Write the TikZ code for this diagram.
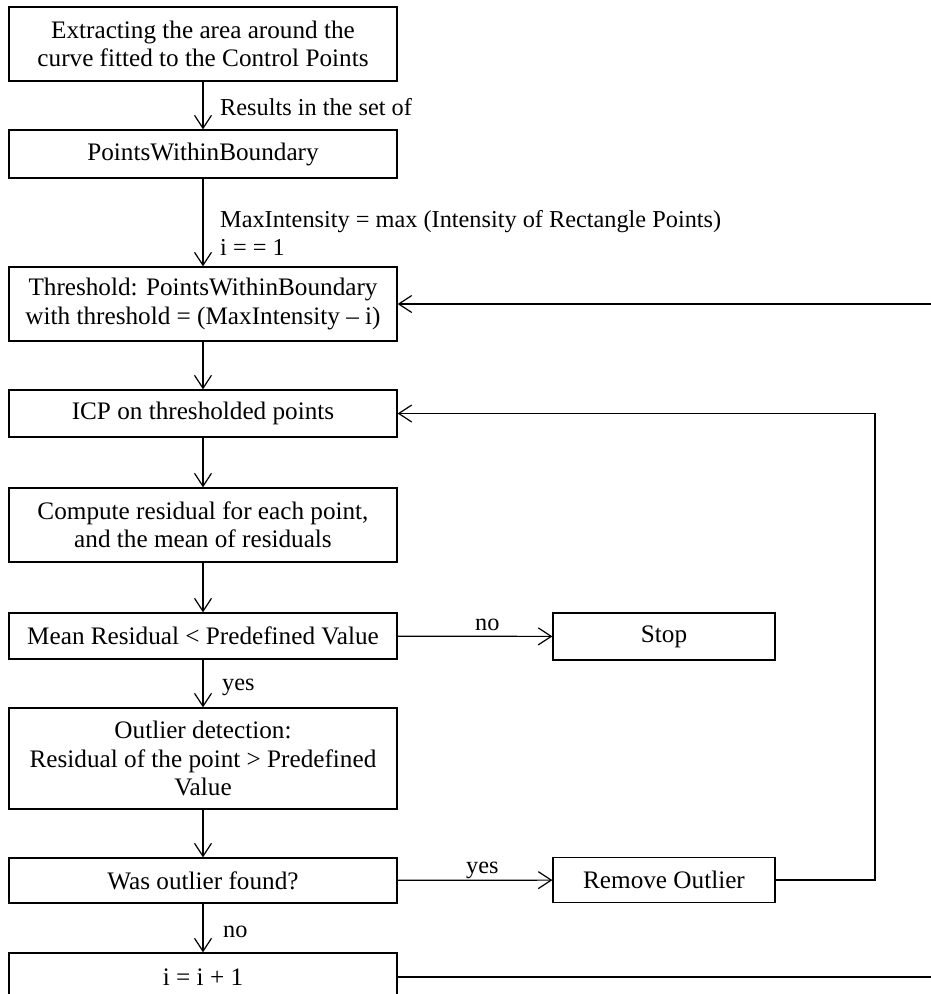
\documentclass[tikz,border=0pt]{standalone}
\usepackage{fontspec}
\setmainfont{Liberation Serif}
\usetikzlibrary{arrows.meta}
\begin{document}
\begin{tikzpicture}[x=1pt,y=-1pt,
  txt/.style={font=\fontsize{25.2}{28.3}\selectfont},
  box/.style={txt, draw, line width=1.3pt, minimum width=388pt, inner sep=0pt, align=center},
  lbl/.style={font=\fontsize{24.3}{28.3}\selectfont, anchor=base west, inner sep=0pt},
  arr/.style={line width=1.2pt, -{Straight Barb[length=13pt,width=17pt,line width=1.2pt]}},
  ln/.style={line width=1.2pt}]
\useasboundingbox (0,0) rectangle (931,994);
\begin{scope}
\clip (0,0) rectangle (931,994);
\node[box, minimum height=74pt] (b1) at (203,44) {Extracting the area around the\\curve fitted to the Control Points};
\node[box, minimum height=48pt] (b2) at (203,154) {PointsWithinBoundary};
\node[box, minimum height=74pt] (b3) at (203,304) {Threshold: PointsWithinBoundary\\with threshold = (MaxIntensity -- i)};
\node[box, minimum height=47pt] (b4) at (203,413.5) {ICP on thresholded points};
\node[box, minimum height=74pt] (b5) at (203,525) {Compute residual for each point,\\and the mean of residuals};
\node[box, minimum height=46pt] (b6) at (203,636) {Mean Residual {<} Predefined Value};
\node[box, minimum height=101pt] (b7) at (203,758.5) {Outlier detection:\\Residual of the point {>} Predefined\\Value};
\node[box, minimum height=45pt] (b8) at (203,880.5) {Was outlier found?};
\node[box, minimum height=48pt] (b9) at (203,977) {i = i + 1};
\node[box, minimum width=222pt, minimum height=47pt] (stop) at (664,636.5) {Stop};
\node[box, minimum width=222pt, minimum height=45pt] (rem) at (664,880) {Remove Outlier};

\coordinate (r1) at (931,304);
\coordinate (r2) at (931,977);
\coordinate (c1) at (875,880);
\coordinate (c2) at (875,413.5);

\draw[arr] (b1) -- (b2);
\draw[arr] (b2) -- (b3);
\draw[arr] (b3) -- (b4);
\draw[arr] (b4) -- (b5);
\draw[arr] (b5) -- (b6);
\draw[arr] (b6) -- (b7);
\draw[arr] (b7) -- (b8);
\draw[arr] (b8) -- (b9);
\draw[arr] (b6) -- (stop);
\draw[arr] (b8) -- (rem);
\draw[arr] (r1) -- (b3);
\draw[arr] (rem.east) -- (c1) -- (c2) -- (b4.east);
\draw[ln] (b9.east) -- (r2);

\node[lbl] (l1) at (220,115) {Results in the set of};
\node[lbl] (l2) at (220,227) {MaxIntensity = max (Intensity of Rectangle Points)};
\node[lbl] (l3) at (220,255) {i = = 1};
\node[lbl] (l4) at (222,690) {yes};
\node[lbl] (l5) at (475,630) {no};
\node[lbl] (l6) at (466,873) {yes};
\node[lbl] (l7) at (223,937) {no};
\end{scope}
\end{tikzpicture}
\end{document}
